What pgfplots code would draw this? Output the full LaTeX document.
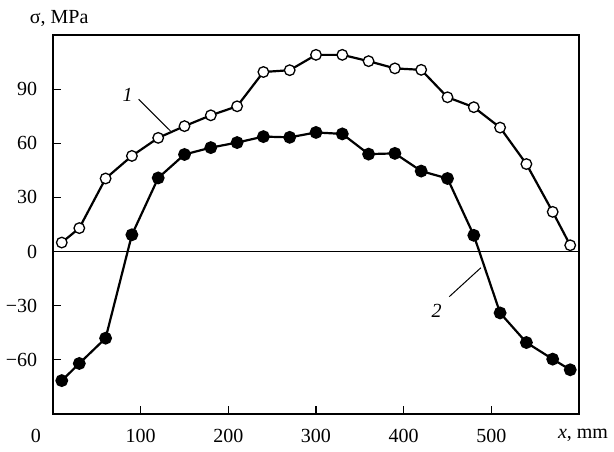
\documentclass[border=0pt]{standalone}
\usepackage{fontspec}
\setmainfont{Liberation Serif}
\usepackage{pgfplots}
\pgfplotsset{compat=1.18}

\begin{document}
\fontsize{20bp}{24bp}\selectfont
\begin{tikzpicture}
  \begin{axis}[
      scale only axis,
      width=526bp, height=379bp,
      xmin=0, xmax=600,
      ymin=-90, ymax=120,
      axis line style={line width=1.4bp},
      xtick={0,100,200,300,400,500,600},
      xticklabels={\kern-17bp 0\kern17bp, 100, 200, 300, 400, 500, {\kern4bp\textit{x}, mm\kern-4bp}},
      ytick={-60,-30,0,30,60,90},
      yticklabels={−60,−30,0,30,60,90},
      tick align=inside,
      xtick pos=bottom, ytick pos=left,
      major tick length=8bp,
      tick style={line width=1.2bp, black},
      ticklabel style={font=\fontsize{20bp}{24bp}\selectfont},
      xticklabel style={yshift=-8bp},
      yticklabel style={xshift=-9bp},
      clip=false,
    ]

    % zero line
    \draw[line width=1.2bp] (axis cs:0,0) -- (axis cs:600,0);

    % curve 1 (open circles)
    \addplot[
      black, line width=2.2bp,
      mark=*, mark size=5.3bp,
      mark options={fill=white, line width=1.3bp},
    ]
    coordinates {
        (10,5)(30,13)(60,40.5)(90,53)(120,63)(150,69.5)(180,75.5)
        (210,80.5)(240,99.5)(270,100.5)(300,109)(330,109)(360,105.5)
        (390,101.5)(420,100.7)(450,85.5)(480,80)(510,68.7)(540,48.5)
        (570,22)(590,3.5)
      };

    % curve 2 (filled circles)
    \addplot[
      black, line width=2.2bp,
      mark=*, mark size=5.3bp,
      mark options={fill=black},
    ]
    coordinates {
        (10,-71.5)(30,-62)(60,-48)(90,9.3)(120,40.8)(150,53.8)(180,57.6)
        (210,60.4)(240,63.7)(270,63.3)(300,66)(330,65.2)(360,54)
        (390,54.4)(420,44.6)(450,40.5)(480,9)(510,-34)(540,-50.4)
        (570,-59.6)(590,-65.5)
      };

    % curve labels and leaders
    \draw[line width=1bp] (axis cs:97.7,84.4) -- (axis cs:134,66.8);
    \node[font=\itshape] at (axis cs:85,87) {1};
    \draw[line width=1bp] (axis cs:452,-25) -- (axis cs:488,-9);
    \node[font=\itshape] at (axis cs:437.5,-33) {2};

    % y axis title
    \node[anchor=base west] at (rel axis cs:0,1) [xshift=-30bp, yshift=11.5bp] {σ, MPa};
  \end{axis}
  \pgfresetboundingbox
  \path (-53bp,-38bp) rectangle (561bp,414bp);
\end{tikzpicture}
\end{document}
